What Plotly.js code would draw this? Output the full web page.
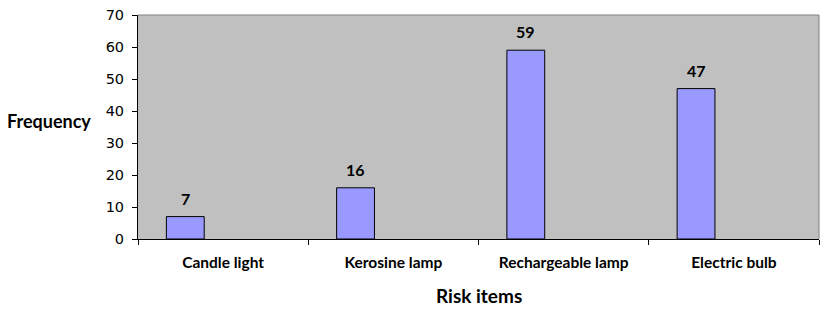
<!DOCTYPE html>
<html>
<head>
<meta charset="utf-8">
<script src="https://cdn.plot.ly/plotly-3.0.1.min.js"></script>
<style>html,body{margin:0;padding:0;background:#fff;}#chart{width:829px;height:313px;}</style>
</head>
<body>
<div id="chart"></div>
<script>
const categories = ["Candle light", "Kerosine lamp", "Rechargeable lamp", "Electric bulb"];
const frequency = [7, 16, 59, 47];
const yTicks = [0, 10, 20, 30, 40, 50, 60, 70];
const xTitle = "Risk items";
const yTitle = "Frequency";

const barWidth = 2 / 9;
const barOffset = -1 / 3;

const trace = {
  type: "bar",
  x: categories,
  y: frequency,
  width: barWidth,
  offset: barOffset,
  marker: { color: "#9999ff", line: { color: "#000000", width: 1 } },
  hoverinfo: "skip"
};

const labelAnnotations = frequency.map((v, i) => ({
  x: i + barOffset + barWidth / 2,
  y: v,
  xref: "x", yref: "y",
  text: String(v),
  showarrow: false,
  yanchor: "bottom",
  yshift: 7,
  font: { family: "Lato, 'DejaVu Sans', sans-serif", size: 16, color: "#000", weight: "bold" }
}));

const layout = {
  width: 829, height: 313,
  margin: { l: 138, r: 10, t: 15, b: 74, pad: 0 },
  paper_bgcolor: "#ffffff",
  plot_bgcolor: "#c0c0c0",
  showlegend: false,
  bargap: 0,
  xaxis: {
    type: "category",
    range: [-0.5, 3.5],
    tickson: "boundaries",
    ticks: "outside", ticklen: 5, tickcolor: "#000", tickwidth: 1,
    showline: true, linecolor: "#000", linewidth: 1,
    showgrid: false, zeroline: false,
    tickfont: { family: "Lato, 'DejaVu Sans', sans-serif", size: 15.5, color: "#000", weight: "bold" },
    ticklabelstandoff: 9,
    fixedrange: true
  },
  yaxis: {
    range: [0, 70],
    tickvals: yTicks,
    ticks: "outside", ticklen: 5, tickcolor: "#000", tickwidth: 1,
    showline: true, linecolor: "#000", linewidth: 1,
    showgrid: false, zeroline: false,
    tickfont: { family: "'DejaVu Sans', Verdana, sans-serif", size: 14.5, color: "#000" },
    ticklabelstandoff: 5,
    fixedrange: true
  },
  shapes: [
    { type: "line", xref: "paper", yref: "paper", x0: 0, x1: 1, y0: 1, y1: 1, line: { color: "#808080", width: 1 } },
    { type: "line", xref: "paper", yref: "paper", x0: 1, x1: 1, y0: 0, y1: 1, line: { color: "#808080", width: 1 } }
  ],
  annotations: labelAnnotations.concat([
    { xref: "paper", yref: "paper", x: -0.131, y: 0.529, xanchor: "center", yanchor: "middle",
      text: yTitle, showarrow: false,
      font: { family: "Lato, 'DejaVu Sans', sans-serif", size: 18, color: "#000", weight: "bold" } },
    { xref: "paper", yref: "paper", x: 0.5, y: -0.25, xanchor: "center", yanchor: "middle",
      text: xTitle, showarrow: false, yshift: 0,
      font: { family: "Lato, 'DejaVu Sans', sans-serif", size: 19, color: "#000", weight: "bold" } }
  ])
};

Plotly.newPlot("chart", [trace], layout, { staticPlot: true, displayModeBar: false });
</script>
</body>
</html>
